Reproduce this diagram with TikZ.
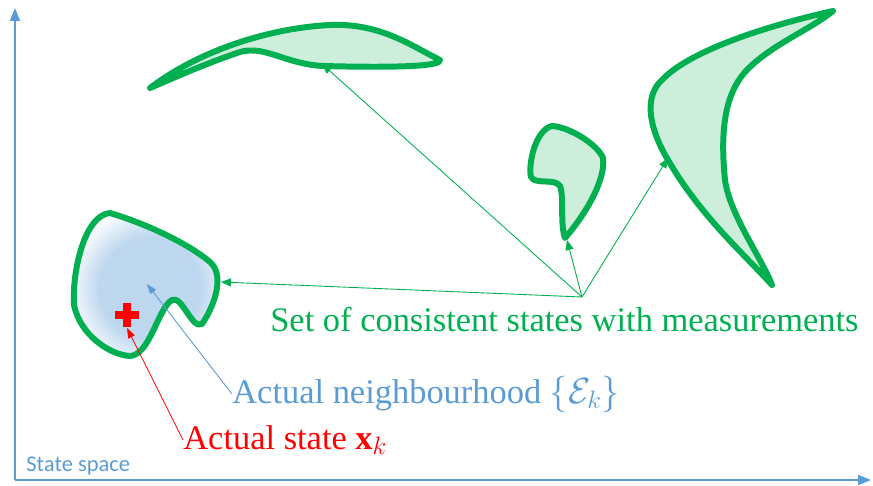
\documentclass[tikz,border=0pt]{standalone}
\usepackage{fontspec}
\setmainfont{Liberation Serif}
\setsansfont{Carlito}
\usetikzlibrary{arrows.meta,calc,positioning}
\definecolor{SetGreen}{HTML}{00B050}
\definecolor{SetFill}{HTML}{CCEEDA}
\definecolor{AxisBlue}{HTML}{5B9BD5}
\definecolor{HoodBlue}{HTML}{BDD7EE}
\definecolor{StateRed}{HTML}{FF0000}
\pgfdeclareradialshading{hood}{\pgfpoint{0bp}{0bp}}{color(0bp)=(HoodBlue); color(9bp)=(HoodBlue); color(15bp)=(white); color(25bp)=(white); color(50bp)=(white)}
\tikzset{
  region/.style={draw=SetGreen, line width=3.4pt, fill=SetFill, line join=round},
  axis/.style={-{Triangle[length=2.6mm,width=2mm]}, draw=AxisBlue, line width=0.9pt},
  label/.style={anchor=west, inner sep=0pt, font=\fontsize{19.6}{22}\selectfont},
  setflow/.style={-{Triangle[length=2mm,width=1.6mm]}, draw=SetGreen, line width=0.5pt},
  hoodflow/.style={-{Triangle[length=2mm,width=1.4mm]}, draw=AxisBlue, line width=0.5pt},
  stateflow/.style={-{Triangle[length=2mm,width=1.4mm]}, draw=StateRed, line width=0.5pt}
}

\begin{document}
\begin{tikzpicture}[x=0.02cm, y=-0.02cm]
    \useasboundingbox (0,0) rectangle (873,486);
    % axes
    \coordinate (o) at (15,480);
    \coordinate (ytop) at (15,8);
    \coordinate (xend) at (871,480);
    \draw[axis] (o) -- (ytop);
    \draw[axis] (o) -- (xend);
    \node[anchor=west, inner sep=0pt, text=AxisBlue, font=\sffamily\fontsize{12.8}{14}\selectfont] (space) at (26,466) {State space};
    % consistent sets
    \draw[region] (150,88) .. controls (200,50) and (270,28) .. (330,25)
      .. controls (380,23) and (410,45) .. (440,60)
      .. controls (442,66) and (400,68) .. (323,66)
      .. controls (285,64) and (265,45) .. (240,52)
      .. controls (210,62) and (180,75) .. (150,88) -- cycle;
    \draw[region] (552,126) .. controls (570,127) and (598,145) .. (603,158)
      .. controls (606,180) and (585,215) .. (565,238)
      .. controls (560,225) and (564,195) .. (560,186)
      .. controls (555,178) and (535,185) .. (531,177)
      .. controls (528,165) and (535,130) .. (552,126) -- cycle;
    \draw[region] (833,11) .. controls (770,25) and (690,50) .. (662,80)
      .. controls (645,95) and (647,125) .. (668,160)
      .. controls (700,215) and (740,250) .. (772,285)
      .. controls (760,255) and (730,215) .. (725,180)
      .. controls (720,130) and (725,95) .. (745,72)
      .. controls (770,45) and (810,30) .. (833,11) -- cycle;
    % neighbourhood
    \begin{scope}
      \clip (110,213) .. controls (150,225) and (190,245) .. (210,262)
        .. controls (225,275) and (215,305) .. (202,324)
        .. controls (192,330) and (182,295) .. (172,300)
        .. controls (158,308) and (150,355) .. (130,356)
        .. controls (110,355) and (80,335) .. (74,305)
        .. controls (72,270) and (85,215) .. (110,213) -- cycle;
      \fill[white] (60,200) rectangle (240,370);
      \shade[shading=hood] (150,288) circle (140);
    \end{scope}
    \draw[draw=SetGreen, line width=3.4pt, line join=round]
      (110,213) .. controls (150,225) and (190,245) .. (210,262)
      .. controls (225,275) and (215,305) .. (202,324)
      .. controls (192,330) and (182,295) .. (172,300)
      .. controls (158,308) and (150,355) .. (130,356)
      .. controls (110,355) and (80,335) .. (74,305)
      .. controls (72,270) and (85,215) .. (110,213) -- cycle;
    % actual state
    \fill[StateRed] (123,303) rectangle (131,327);
    \fill[StateRed] (115,311) rectangle (139,319);
    \coordinate (cross) at (127,328);
    \coordinate (hood) at (147,284);
    % labels
    \node[label, text=SetGreen] (consistent) at (270,320) {Set of consistent states with measurements};
    \node[label, text=AxisBlue] (neigh) at (232,394) {Actual neighbourhood $\{\mathcal{E}_k\}$};
    \node[label, text=StateRed] (state) at (183,440) {Actual state $\mathbf{x}_k$};
    % pointers
    \coordinate (hub) at (582,297);
    \coordinate (toptip) at (322,64);
    \coordinate (smalltip) at (567,240);
    \coordinate (bigside) at (668,158);
    \coordinate (leftside) at (221,282);
    \draw[setflow] (hub) -- (toptip);
    \draw[setflow] (hub) -- (smalltip);
    \draw[setflow] (hub) -- (bigside);
    \draw[setflow] (hub) -- (leftside);
    \draw[hoodflow] (neigh.west) -- (hood);
    \draw[stateflow] (state.west) -- (cross);
  \end{tikzpicture}
\end{document}
